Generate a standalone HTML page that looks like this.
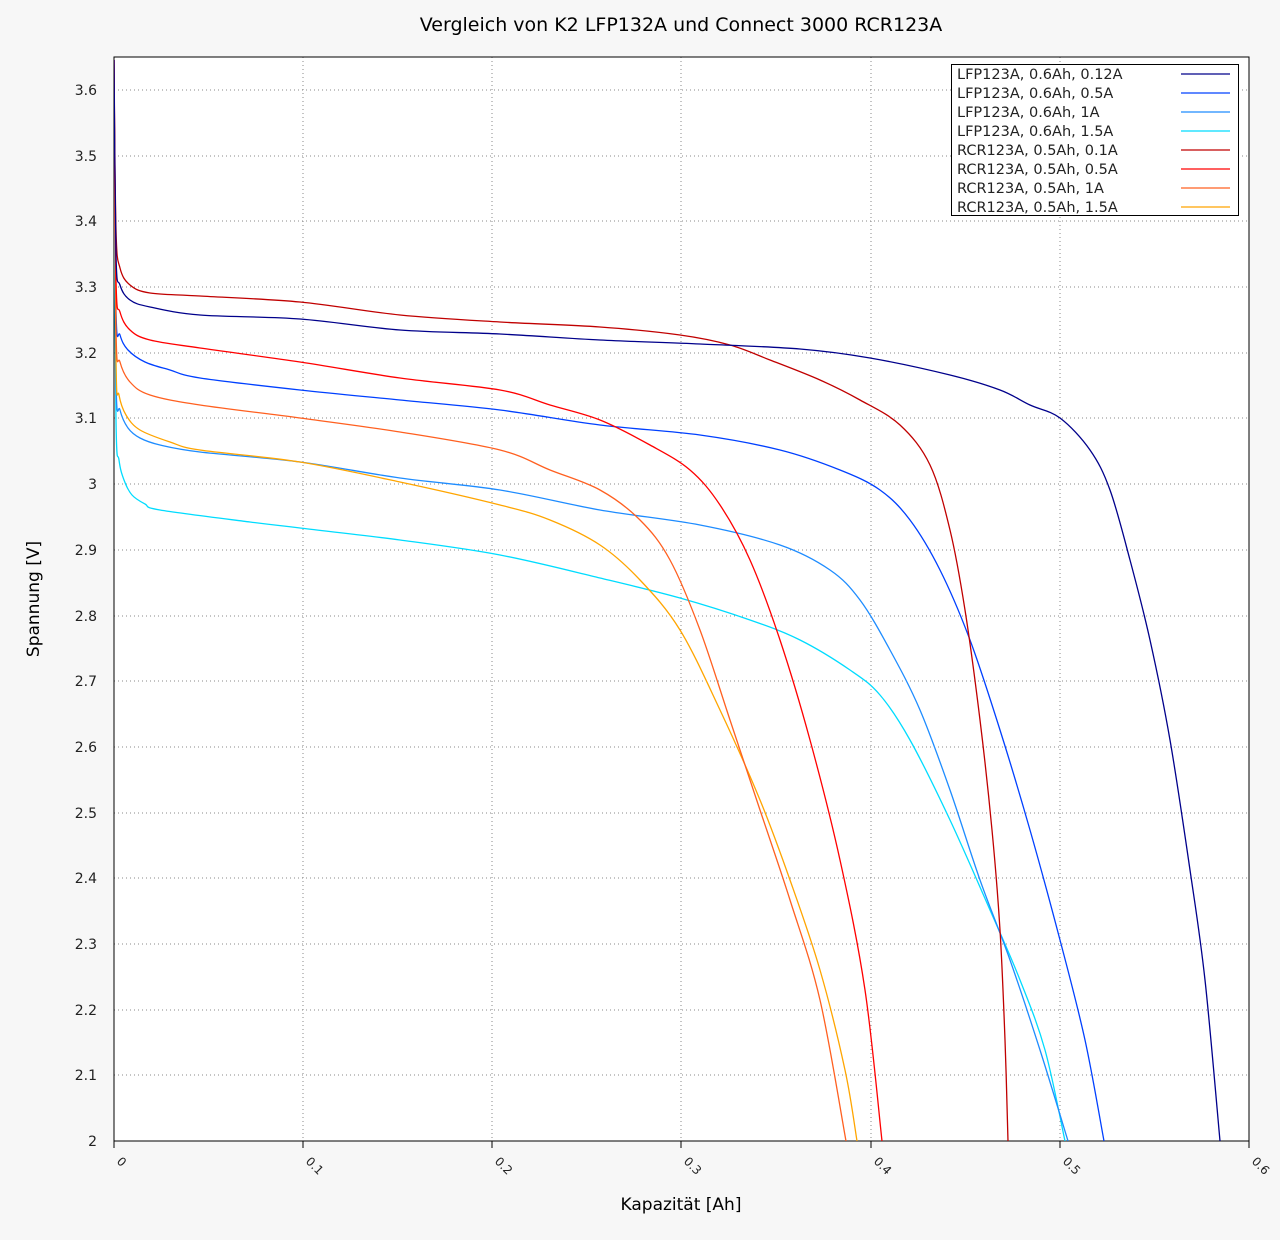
<!DOCTYPE html>
<html><head><meta charset="utf-8"><style>
body{margin:0;background:#f7f7f7;}
svg{display:block;font-family:"DejaVu Sans","Liberation Sans",sans-serif;}
</style></head><body>
<svg id="s" width="1280" height="1240" xmlns="http://www.w3.org/2000/svg">
<rect x="0" y="0" width="1280" height="1240" fill="#f7f7f7"/>
<rect x="114" y="57" width="1135" height="1084" fill="#fff"/>
<g stroke="#888" stroke-dasharray="1,3" stroke-width="1">
<line x1="303" y1="57" x2="303" y2="1141"/><line x1="492" y1="57" x2="492" y2="1141"/><line x1="681" y1="57" x2="681" y2="1141"/><line x1="871" y1="57" x2="871" y2="1141"/><line x1="1060" y1="57" x2="1060" y2="1141"/>
<line x1="114" y1="90" x2="1249" y2="90"/><line x1="114" y1="156" x2="1249" y2="156"/><line x1="114" y1="221" x2="1249" y2="221"/><line x1="114" y1="287" x2="1249" y2="287"/><line x1="114" y1="353" x2="1249" y2="353"/><line x1="114" y1="418" x2="1249" y2="418"/><line x1="114" y1="484" x2="1249" y2="484"/><line x1="114" y1="550" x2="1249" y2="550"/><line x1="114" y1="616" x2="1249" y2="616"/><line x1="114" y1="681" x2="1249" y2="681"/><line x1="114" y1="747" x2="1249" y2="747"/><line x1="114" y1="813" x2="1249" y2="813"/><line x1="114" y1="878" x2="1249" y2="878"/><line x1="114" y1="944" x2="1249" y2="944"/><line x1="114" y1="1010" x2="1249" y2="1010"/><line x1="114" y1="1075" x2="1249" y2="1075"/>
</g>
<rect x="114" y="57" width="1135" height="1084" fill="none" stroke="#000" stroke-width="1"/>
<g stroke="#000"><line x1="114" y1="1141" x2="114" y2="1148"/><line x1="303" y1="1141" x2="303" y2="1148"/><line x1="492" y1="1141" x2="492" y2="1148"/><line x1="681" y1="1141" x2="681" y2="1148"/><line x1="871" y1="1141" x2="871" y2="1148"/><line x1="1060" y1="1141" x2="1060" y2="1148"/><line x1="1249" y1="1141" x2="1249" y2="1148"/></g>
<g font-size="14" fill="#222" text-anchor="end">
<text x="97" y="95">3.6</text><text x="97" y="161">3.5</text><text x="97" y="226">3.4</text><text x="97" y="292">3.3</text><text x="97" y="358">3.2</text><text x="97" y="423">3.1</text><text x="97" y="489">3</text><text x="97" y="555">2.9</text><text x="97" y="621">2.8</text><text x="97" y="686">2.7</text><text x="97" y="752">2.6</text><text x="97" y="818">2.5</text><text x="97" y="883">2.4</text><text x="97" y="949">2.3</text><text x="97" y="1015">2.2</text><text x="97" y="1080">2.1</text><text x="97" y="1146">2</text>
</g>
<g font-size="12" fill="#222">
<text transform="translate(116,1162) rotate(45)">0</text><text transform="translate(305,1162) rotate(45)">0.1</text><text transform="translate(494,1162) rotate(45)">0.2</text><text transform="translate(683,1162) rotate(45)">0.3</text><text transform="translate(873,1162) rotate(45)">0.4</text><text transform="translate(1062,1162) rotate(45)">0.5</text><text transform="translate(1251,1162) rotate(45)">0.6</text>
</g>
<text x="681" y="1210" font-size="17" text-anchor="middle" fill="#000">Kapazität [Ah]</text>
<text transform="translate(39,599) rotate(-90)" font-size="17" text-anchor="middle" fill="#000">Spannung [V]</text>
<text x="681" y="31" font-size="19" text-anchor="middle" fill="#000">Vergleich von K2 LFP132A und Connect 3000 RCR123A</text>
<clipPath id="c"><rect x="114" y="57" width="1135" height="1084"/></clipPath>
<g id="curves" fill="none" stroke-width="1.3" clip-path="url(#c)">
<polyline stroke="#00dcff" points="114,150 116,420 119,460 124,480 132,495 145,504 160,510 250,522 300,528 400,540 500,555 600,578 680,598 750,620 800,640 850,670 880,695 910,740 950,820 990,910 1020,980 1045,1050 1065,1141"/>
<polyline stroke="#1e8cff" points="114,100 116,380 120,410 128,428 140,438 160,445 200,452 300,462 400,478 500,490 600,510 700,525 780,545 830,570 860,600 890,650 920,710 950,790 980,880 1010,960 1040,1050 1068,1141"/>
<polyline stroke="#0040ff" points="114,70 116,310 120,335 128,350 145,362 170,370 200,378 300,390 400,400 500,410 600,425 700,435 780,450 840,470 880,490 910,520 940,570 970,640 1000,730 1030,830 1060,940 1085,1040 1104,1141"/>
<polyline stroke="#ffa500" points="114,60 116,360 119,395 126,415 140,430 170,442 200,450 300,462 400,482 500,505 550,520 600,545 640,580 680,630 720,710 760,800 790,880 820,970 845,1070 857,1141"/>
<polyline stroke="#ff6020" points="114,60 116,330 120,362 130,382 150,395 200,405 300,418 400,432 500,450 550,470 600,490 640,520 670,560 700,630 730,720 760,810 790,900 820,1000 846,1141"/>
<polyline stroke="#ff0000" points="114,60 116,280 120,312 130,330 150,340 200,348 300,362 400,378 500,390 550,405 600,420 650,445 690,470 720,505 750,560 780,640 810,740 840,860 865,990 882,1141"/>
<polyline stroke="#c00000" points="114,60 116,230 120,268 130,285 150,293 200,296 300,302 400,315 500,322 600,327 680,335 730,345 770,360 820,380 860,400 900,425 930,465 950,530 965,610 980,720 992,830 1000,930 1005,1040 1008,1141"/>
<polyline stroke="#00008b" points="114,60 116,255 120,285 130,300 150,307 200,315 300,319 400,330 500,334 600,340 700,344 800,349 870,358 950,375 1000,390 1030,405 1060,418 1090,450 1110,490 1130,560 1150,640 1170,740 1190,870 1205,980 1220,1141"/>
</g>
<rect x="951.5" y="64.5" width="287" height="151" fill="#fff" stroke="#000"/>
<g font-size="14.5" fill="#222">
<text x="957" y="79">LFP123A, 0.6Ah, 0.12A</text><text x="957" y="98">LFP123A, 0.6Ah, 0.5A</text><text x="957" y="117">LFP123A, 0.6Ah, 1A</text><text x="957" y="136">LFP123A, 0.6Ah, 1.5A</text><text x="957" y="155">RCR123A, 0.5Ah, 0.1A</text><text x="957" y="174">RCR123A, 0.5Ah, 0.5A</text><text x="957" y="193">RCR123A, 0.5Ah, 1A</text><text x="957" y="212">RCR123A, 0.5Ah, 1.5A</text>
</g>
<g stroke-width="1.3">
<line x1="1181" y1="74" x2="1230" y2="74" stroke="#00008b"/><line x1="1181" y1="93" x2="1230" y2="93" stroke="#0040ff"/><line x1="1181" y1="112" x2="1230" y2="112" stroke="#1e8cff"/><line x1="1181" y1="131" x2="1230" y2="131" stroke="#00dcff"/><line x1="1181" y1="150" x2="1230" y2="150" stroke="#c00000"/><line x1="1181" y1="169" x2="1230" y2="169" stroke="#ff0000"/><line x1="1181" y1="188" x2="1230" y2="188" stroke="#ff6020"/><line x1="1181" y1="207" x2="1230" y2="207" stroke="#ffa500"/>
</g>
</svg>
<script>
document.querySelectorAll('#curves polyline').forEach(function(pl){
  var p=pl.getAttribute('points').trim().split(/\s+/).map(function(s){return s.split(',').map(Number);});
  var d='M'+p[0][0]+','+p[0][1];
  for(var i=0;i<p.length-1;i++){
    var p0=p[i-1]||p[i],p1=p[i],p2=p[i+1],p3=p[i+2]||p2;
    var t=1/6;
    var c1=[p1[0]+(p2[0]-p0[0])*t,p1[1]+(p2[1]-p0[1])*t];
    var c2=[p2[0]-(p3[0]-p1[0])*t,p2[1]-(p3[1]-p1[1])*t];
    d+=' C'+c1[0]+','+c1[1]+' '+c2[0]+','+c2[1]+' '+p2[0]+','+p2[1];
  }
  var path=document.createElementNS('http://www.w3.org/2000/svg','path');
  path.setAttribute('d',d);path.setAttribute('stroke',pl.getAttribute('stroke'));
  pl.parentNode.replaceChild(path,pl);
});
</script>
</body></html>
